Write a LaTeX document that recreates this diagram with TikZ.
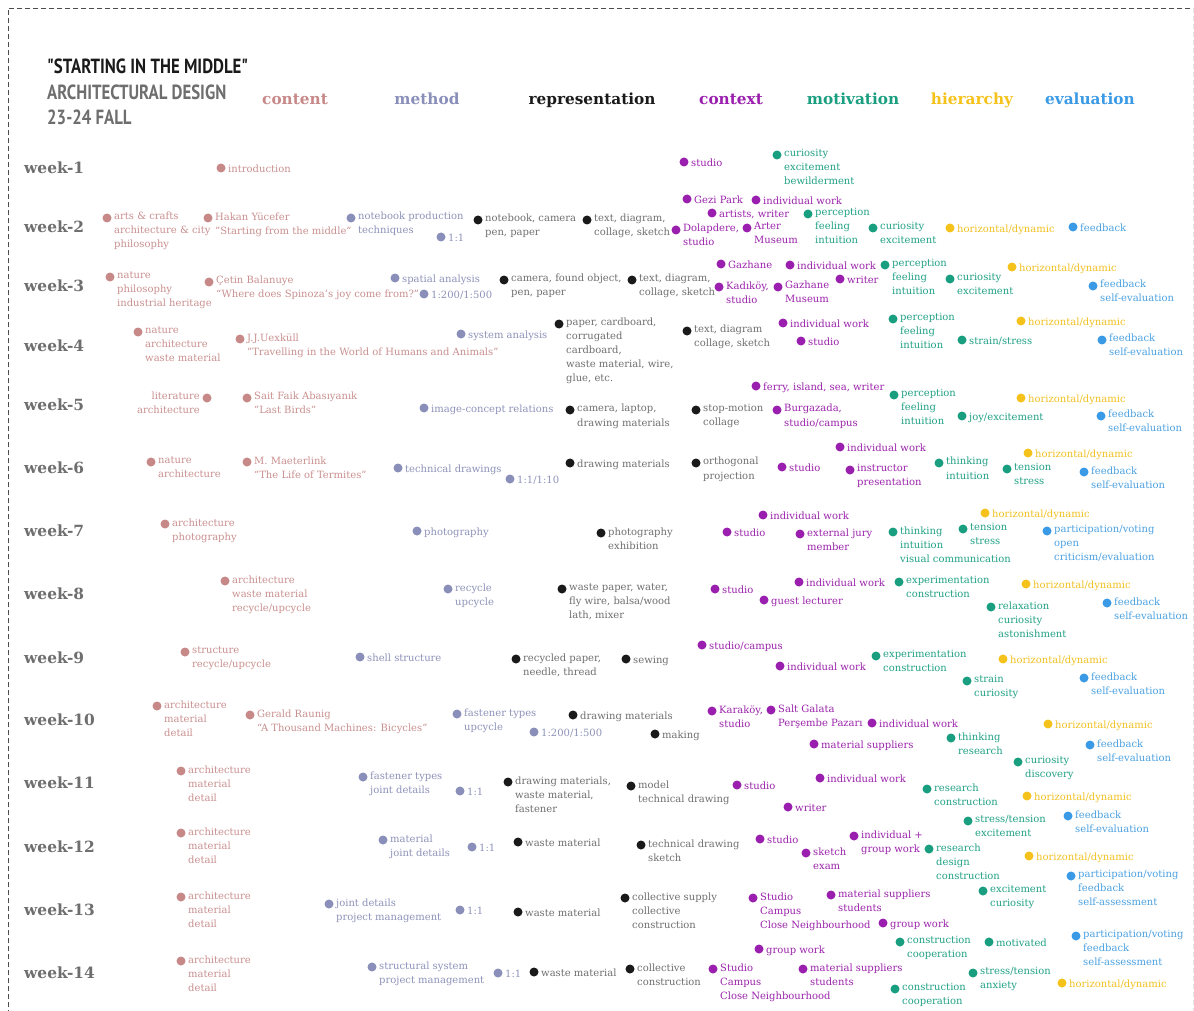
\documentclass[tikz,border=0pt]{standalone}
\usepackage{fontspec}
\setmainfont{DejaVu Serif}
\newfontfamily\titlefont[FakeStretch=0.82]{PT Sans}
\usepackage{xcolor}
\usetikzlibrary{positioning}
\definecolor{cntdot}{HTML}{C78888}\definecolor{cnttxt}{HTML}{C98F8F}
\definecolor{mtddot}{HTML}{8A8FBA}\definecolor{mtdtxt}{HTML}{8C92B8}
\definecolor{repdot}{HTML}{1A1A1A}\definecolor{reptxt}{HTML}{6E6E6E}
\definecolor{ctxdot}{HTML}{9B1FAF}\definecolor{ctxtxt}{HTML}{9A22AA}
\definecolor{motdot}{HTML}{1A9E80}\definecolor{mottxt}{HTML}{20A085}
\definecolor{hiedot}{HTML}{F5C21B}\definecolor{hietxt}{HTML}{F0C020}
\definecolor{evadot}{HTML}{3A9AE6}\definecolor{evatxt}{HTML}{4AA0E0}
\definecolor{weekgray}{HTML}{6E6E6E}
\tikzset{
  dot/.style={circle,inner sep=0pt,minimum size=9pt},
  itm/.style={inner sep=0pt,align=left,font=\fontsize{10}{14}\selectfont,execute at begin node=\strut},
  head/.style={anchor=base,inner sep=0pt,font=\fontsize{15.3}{18}\selectfont\bfseries},
  week/.style={anchor=west,inner sep=0pt,text=weekgray,font=\fontsize{15.4}{18}\selectfont\bfseries},
  ttl/.style={anchor=base west,inner sep=0pt,font={\titlefont\fontsize{20.5}{23}\selectfont\bfseries}},
}
% #1 category, #2 name, #3 x, #4 y, #5 text
\newcommand{\wkitem}[5]{%
  \node[dot,fill=#1dot] (#2) at (#3,#4) {};
  \node[itm,text=#1txt,anchor=north west] (#2t) at ([xshift=7pt,yshift=5.8pt]#2.center) {#5};}

\begin{document}
\begin{tikzpicture}[x=1pt,y=-1pt]
\useasboundingbox (0,0) rectangle (1194,1011);
\draw[black!70,dash pattern=on 5pt off 3pt] (8,1015) |- (1193,8);
\draw[black!10,dash pattern=on 5pt off 3pt] (1193,8) -- (1193,1015);
% title
\node[ttl,text=repdot] (ttl1) at (47,74) {"STARTING IN THE MIDDLE"};
\node[ttl,text=weekgray] (ttl2) at (47,100) {ARCHITECTURAL DESIGN};
\node[ttl,text=weekgray] (ttl3) at (47,125) {23-24 FALL};
% headers
\node[head,text=cntdot] (hcnt) at (295,105) {content};
\node[head,text=mtddot] (hmtd) at (427,105) {method};
\node[head,text=repdot] (hrep) at (592,105) {representation};
\node[head,text=ctxdot] (hctx) at (731,105) {context};
\node[head,text=motdot] (hmot) at (853,105) {motivation};
\node[head,text=hiedot] (hhie) at (972,105) {hierarchy};
\node[head,text=evadot] (heva) at (1090,105) {evaluation};
% weeks
\foreach \w/\y in {1/168,2/227,3/286,4/346,5/405,6/468,7/531,8/594,9/658,10/720,11/783,12/847,13/910,14/973}
  \node[week] (wk\w) at (24,\y) {week-\w};
% week 1
\wkitem{cnt}{w1cnt}{221}{168}{introduction}
\wkitem{ctx}{w1ctx}{684}{162}{studio}
\wkitem{mot}{w1mot}{777}{155}{curiosity\\excitement\\bewilderment}
% week 2
\wkitem{cnt}{w2cnta}{107}{218}{arts \& crafts\\architecture \& city\\philosophy}
\wkitem{cnt}{w2cntb}{208}{218}{Hakan Yücefer\\"Starting from the middle"}
\wkitem{mtd}{w2mtda}{351}{218}{notebook production\\techniques}
\wkitem{mtd}{w2mtdb}{441}{237}{1:1}
\wkitem{rep}{w2repa}{478}{220}{notebook, camera\\pen, paper}
\wkitem{rep}{w2repb}{587}{220}{text, diagram,\\collage, sketch}
\wkitem{ctx}{w2ctxa}{687}{199}{Gezi Park}
\wkitem{ctx}{w2ctxb}{756}{200}{individual work}
\wkitem{ctx}{w2ctxc}{712}{213}{artists, writer}
\wkitem{ctx}{w2ctxd}{676}{230}{Dolapdere,\\studio}
\wkitem{ctx}{w2ctxe}{747}{228}{Arter\\Museum}
\wkitem{mot}{w2mota}{808}{214}{perception\\feeling\\intuition}
\wkitem{mot}{w2motb}{873}{228}{curiosity\\excitement}
\wkitem{hie}{w2hie}{950}{228}{horizontal/dynamic}
\wkitem{eva}{w2eva}{1073}{227}{feedback}
% week 3
\wkitem{cnt}{w3cnta}{110}{277}{nature\\philosophy\\industrial heritage}
\wkitem{cnt}{w3cntb}{209}{282}{Çetin Balanuye\\“Where does Spinoza's joy come from?”}
\wkitem{mtd}{w3mtda}{395}{278}{spatial analysis}
\wkitem{mtd}{w3mtdb}{424}{294}{1:200/1:500}
\wkitem{rep}{w3repa}{504}{280}{camera, found object,\\pen, paper}
\wkitem{rep}{w3repb}{632}{280}{text, diagram,\\collage, sketch}
\wkitem{ctx}{w3ctxa}{721}{264}{Gazhane}
\wkitem{ctx}{w3ctxb}{790}{265}{individual work}
\wkitem{ctx}{w3ctxc}{719}{287}{Kadıköy,\\studio}
\wkitem{ctx}{w3ctxd}{778}{287}{Gazhane\\Museum}
\wkitem{ctx}{w3ctxe}{840}{279}{writer}
\wkitem{mot}{w3mota}{885}{265}{perception\\feeling\\intuition}
\wkitem{mot}{w3motb}{950}{279}{curiosity\\excitement}
\wkitem{hie}{w3hie}{1012}{267}{horizontal/dynamic}
\wkitem{eva}{w3eva}{1093}{286}{feedback\\self-evaluation}
% week 4
\wkitem{cnt}{w4cnta}{138}{332}{nature\\architecture\\waste material}
\wkitem{cnt}{w4cntb}{240}{339}{J.J.Uexküll\\"Travelling in the World of Humans and Animals"}
\wkitem{mtd}{w4mtd}{461}{334}{system analysis}
\wkitem{rep}{w4repa}{559}{324}{paper, cardboard,\\corrugated\\cardboard,\\waste material, wire,\\glue, etc.}
\wkitem{rep}{w4repb}{687}{331}{text, diagram\\collage, sketch}
\wkitem{ctx}{w4ctxa}{783}{323}{individual work}
\wkitem{ctx}{w4ctxb}{801}{341}{studio}
\wkitem{mot}{w4mota}{893}{319}{perception\\feeling\\intuition}
\wkitem{mot}{w4motb}{962}{340}{strain/stress}
\wkitem{hie}{w4hie}{1021}{321}{horizontal/dynamic}
\wkitem{eva}{w4eva}{1102}{340}{feedback\\self-evaluation}
% week 5
\node[dot,fill=cntdot] (w5cnta) at (207,398) {};
\node[itm,text=cnttxt,align=right,anchor=north east] (w5cntat) at ([xshift=-7pt,yshift=5.8pt]w5cnta.center) {literature\\architecture};
\wkitem{cnt}{w5cntb}{247}{398}{Sait Faik Abasıyanık\\"Last Birds"}
\wkitem{mtd}{w5mtd}{424}{408}{image-concept relations}
\wkitem{rep}{w5repa}{570}{410}{camera, laptop,\\drawing materials}
\wkitem{rep}{w5repb}{696}{410}{stop-motion\\collage}
\wkitem{ctx}{w5ctxa}{756}{386}{ferry, island, sea, writer}
\wkitem{ctx}{w5ctxb}{777}{410}{Burgazada,\\studio/campus}
\wkitem{mot}{w5mota}{894}{395}{perception\\feeling\\intuition}
\wkitem{mot}{w5motb}{962}{416}{joy/excitement}
\wkitem{hie}{w5hie}{1021}{398}{horizontal/dynamic}
\wkitem{eva}{w5eva}{1101}{416}{feedback\\self-evaluation}
% week 6
\wkitem{cnt}{w6cnta}{151}{462}{nature\\architecture}
\wkitem{cnt}{w6cntb}{247}{462}{M. Maeterlink\\"The Life of Termites"}
\wkitem{mtd}{w6mtda}{398}{468}{technical drawings}
\wkitem{mtd}{w6mtdb}{510}{479}{1:1/1:10}
\wkitem{rep}{w6repa}{570}{463}{drawing materials}
\wkitem{rep}{w6repb}{696}{463}{orthogonal\\projection}
\wkitem{ctx}{w6ctxa}{782}{467}{studio}
\wkitem{ctx}{w6ctxb}{840}{447}{individual work}
\wkitem{ctx}{w6ctxc}{850}{470}{instructor\\presentation}
\wkitem{mot}{w6mota}{939}{463}{thinking\\intuition}
\wkitem{mot}{w6motb}{1007}{469}{tension\\stress}
\wkitem{hie}{w6hie}{1028}{453}{horizontal/dynamic}
\wkitem{eva}{w6eva}{1084}{472}{feedback\\self-evaluation}
% week 7
\wkitem{cnt}{w7cnt}{165}{524}{architecture\\photography}
\wkitem{mtd}{w7mtd}{417}{531}{photography}
\wkitem{rep}{w7rep}{601}{533}{photography\\exhibition}
\wkitem{ctx}{w7ctxa}{763}{515}{individual work}
\wkitem{ctx}{w7ctxb}{727}{532}{studio}
\wkitem{ctx}{w7ctxc}{800}{534}{external jury\\member}
\wkitem{mot}{w7mota}{893}{532}{thinking\\intuition\\visual communication}
\wkitem{mot}{w7motb}{963}{529}{tension\\stress}
\wkitem{hie}{w7hie}{985}{513}{horizontal/dynamic}
\wkitem{eva}{w7eva}{1047}{531}{participation/voting\\open\\criticism/evaluation}
% week 8
\wkitem{cnt}{w8cnt}{225}{581}{architecture\\waste material\\recycle/upcycle}
\wkitem{mtd}{w8mtd}{448}{589}{recycle\\upcycle}
\wkitem{rep}{w8rep}{562}{589}{waste paper, water,\\fly wire, balsa/wood\\lath, mixer}
\wkitem{ctx}{w8ctxa}{715}{589}{studio}
\wkitem{ctx}{w8ctxb}{799}{582}{individual work}
\wkitem{ctx}{w8ctxc}{764}{600}{guest lecturer}
\wkitem{mot}{w8mota}{899}{582}{experimentation\\construction}
\wkitem{mot}{w8motb}{991}{607}{relaxation\\curiosity\\astonishment}
\wkitem{hie}{w8hie}{1026}{584}{horizontal/dynamic}
\wkitem{eva}{w8eva}{1107}{603}{feedback\\self-evaluation}
% week 9
\wkitem{cnt}{w9cnt}{185}{652}{structure\\recycle/upcycle}
\wkitem{mtd}{w9mtd}{360}{657}{shell structure}
\wkitem{rep}{w9repa}{516}{659}{recycled paper,\\needle, thread}
\wkitem{rep}{w9repb}{626}{659}{sewing}
\wkitem{ctx}{w9ctxa}{702}{645}{studio/campus}
\wkitem{ctx}{w9ctxb}{780}{666}{individual work}
\wkitem{mot}{w9mota}{876}{656}{experimentation\\construction}
\wkitem{mot}{w9motb}{967}{681}{strain\\curiosity}
\wkitem{hie}{w9hie}{1003}{659}{horizontal/dynamic}
\wkitem{eva}{w9eva}{1084}{678}{feedback\\self-evaluation}
% week 10
\wkitem{cnt}{w10cnta}{157}{706}{architecture\\material\\detail}
\wkitem{cnt}{w10cntb}{250}{715}{Gerald Raunig\\“A Thousand Machines: Bicycles”}
\wkitem{mtd}{w10mtda}{457}{714}{fastener types\\upcycle}
\wkitem{mtd}{w10mtdb}{534}{732}{1:200/1:500}
\wkitem{rep}{w10repa}{573}{715}{drawing materials}
\wkitem{rep}{w10repb}{655}{734}{making}
\wkitem{ctx}{w10ctxa}{712}{711}{Karaköy,\\studio}
\wkitem{ctx}{w10ctxb}{771}{710}{Salt Galata\\Perşembe Pazarı}
\wkitem{ctx}{w10ctxc}{872}{723}{individual work}
\wkitem{ctx}{w10ctxd}{814}{744}{material suppliers}
\wkitem{mot}{w10mota}{951}{738}{thinking\\research}
\wkitem{mot}{w10motb}{1018}{762}{curiosity\\discovery}
\wkitem{hie}{w10hie}{1048}{724}{horizontal/dynamic}
\wkitem{eva}{w10eva}{1090}{745}{feedback\\self-evaluation}
% week 11
\wkitem{cnt}{w11cnt}{181}{771}{architecture\\material\\detail}
\wkitem{mtd}{w11mtda}{363}{777}{fastener types\\joint details}
\wkitem{mtd}{w11mtdb}{460}{791}{1:1}
\wkitem{rep}{w11repa}{508}{782}{drawing materials,\\waste material,\\fastener}
\wkitem{rep}{w11repb}{631}{786}{model\\technical drawing}
\wkitem{ctx}{w11ctxa}{737}{785}{studio}
\wkitem{ctx}{w11ctxb}{820}{778}{individual work}
\wkitem{ctx}{w11ctxc}{788}{807}{writer}
\wkitem{mot}{w11mota}{927}{789}{research\\construction}
\wkitem{hie}{w11hie}{1027}{796}{horizontal/dynamic}
\wkitem{mot}{w11motb}{968}{821}{stress/tension\\excitement}
\wkitem{eva}{w11eva}{1068}{816}{feedback\\self-evaluation}
% week 12
\wkitem{cnt}{w12cnt}{181}{833}{architecture\\material\\detail}
\wkitem{mtd}{w12mtda}{383}{840}{material\\joint details}
\wkitem{mtd}{w12mtdb}{472}{847}{1:1}
\wkitem{rep}{w12repa}{518}{842}{waste material}
\wkitem{rep}{w12repb}{641}{845}{technical drawing\\sketch}
\wkitem{ctx}{w12ctxa}{760}{839}{studio}
\wkitem{ctx}{w12ctxb}{854}{836}{individual +\\group work}
\wkitem{ctx}{w12ctxc}{806}{853}{sketch\\exam}
\wkitem{mot}{w12mot}{929}{849}{research\\design\\construction}
\wkitem{hie}{w12hie}{1029}{856}{horizontal/dynamic}
\wkitem{eva}{w12eva}{1071}{876}{participation/voting\\feedback\\self-assessment}
% week 13
\wkitem{cnt}{w13cnt}{181}{897}{architecture\\material\\detail}
\wkitem{mtd}{w13mtda}{329}{904}{joint details\\project management}
\wkitem{mtd}{w13mtdb}{460}{910}{1:1}
\wkitem{rep}{w13repa}{518}{912}{waste material}
\wkitem{rep}{w13repb}{625}{898}{collective supply\\collective\\construction}
\wkitem{ctx}{w13ctxa}{753}{898}{Studio\\Campus\\Close Neighbourhood}
\wkitem{ctx}{w13ctxb}{831}{895}{material suppliers\\students}
\wkitem{ctx}{w13ctxc}{883}{923}{group work}
\wkitem{mot}{w13mot}{983}{891}{excitement\\curiosity}
% week 14
\wkitem{cnt}{w14cnt}{181}{961}{architecture\\material\\detail}
\wkitem{mtd}{w14mtda}{372}{967}{structural system\\project management}
\wkitem{mtd}{w14mtdb}{498}{973}{1:1}
\wkitem{rep}{w14repa}{534}{972}{waste material}
\wkitem{rep}{w14repb}{630}{969}{collective\\construction}
\wkitem{ctx}{w14ctxa}{713}{969}{Studio\\Campus\\Close Neighbourhood}
\wkitem{ctx}{w14ctxb}{759}{949}{group work}
\wkitem{ctx}{w14ctxc}{803}{969}{material suppliers\\students}
\wkitem{mot}{w14mota}{900}{942}{construction\\cooperation}
\wkitem{mot}{w14motb}{989}{942}{motivated}
\wkitem{mot}{w14motc}{973}{973}{stress/tension\\anxiety}
\wkitem{mot}{w14motd}{895}{989}{construction\\cooperation}
\wkitem{eva}{w14eva}{1076}{936}{participation/voting\\feedback\\self-assessment}
\wkitem{hie}{w14hie}{1062}{983}{horizontal/dynamic}
\end{tikzpicture}
\end{document}
